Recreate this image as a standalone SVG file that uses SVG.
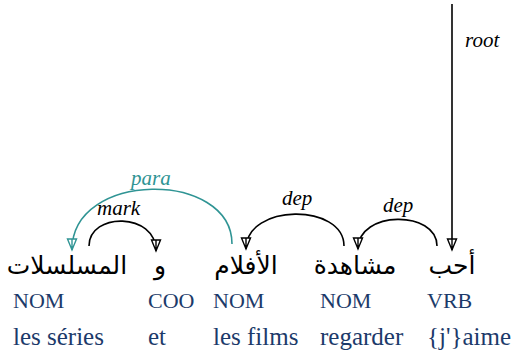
<svg xmlns="http://www.w3.org/2000/svg" width="519" height="353" viewBox="0 0 519 353">
<style>
.ar{font-family:"DejaVu Sans",sans-serif;font-size:25px;fill:#000}
.pos{font-family:"Liberation Serif",serif;font-size:22px;fill:#1c3a6a}
.gl{font-family:"Liberation Serif",serif;font-size:25px;fill:#1c3a6a}
.lbl{font-family:"Liberation Serif",serif;font-style:italic;font-size:21px;fill:#000}
.arc{fill:none;stroke:#000;stroke-width:1.6}
.teal{stroke:#2f9494}
</style>
<defs>
<marker id="ah" viewBox="-1 -6 14 12" refX="11" refY="0" markerWidth="14" markerHeight="12" markerUnits="userSpaceOnUse" orient="auto">
<path d="M0,-4.5 L11,0 L0,4.5 Z M0,0 L11,0" fill="#fff" stroke="#000" stroke-width="1.4"/>
</marker>
<marker id="aht" viewBox="-1 -6 14 12" refX="11" refY="0" markerWidth="14" markerHeight="12" markerUnits="userSpaceOnUse" orient="auto">
<path d="M0,-4.5 L11,0 L0,4.5 Z M0,0 L11,0" fill="#fff" stroke="#2f9494" stroke-width="1.4"/>
</marker>
</defs>
<rect width="519" height="353" fill="#fff"/>
<g id="connectors">
<path class="arc" d="M452,4 L452,250" marker-end="url(#ah)"/>
<text class="lbl" x="465" y="47">root</text>
<path class="arc" d="M437,246 C437,210 358,210 358,249" marker-end="url(#ah)"/>
<text class="lbl" x="383" y="212">dep</text>
<path class="arc" d="M344,246 C344,203 246,203 246,249" marker-end="url(#ah)"/>
<text class="lbl" x="282" y="205">dep</text>
<path class="arc teal" d="M232,244 C232,170 72,170 72,250" marker-end="url(#aht)"/>
<text class="lbl" x="131" y="185" style="fill:#2f9494">para</text>
<path class="arc" d="M89,246 C89,212 156,212 156,251" marker-end="url(#ah)"/>
<text class="lbl" x="97" y="215">mark</text>
</g>
<g id="n1">
<text class="ar" x="67" y="274" text-anchor="middle">المسلسلات</text>
<text class="pos" x="13" y="308">NOM</text>
<text class="gl" x="13" y="345">les séries</text>
</g>
<g id="n2">
<text class="ar" x="160" y="274" text-anchor="middle">و</text>
<text class="pos" x="148" y="308">COO</text>
<text class="gl" x="148" y="345">et</text>
</g>
<g id="n3">
<text class="ar" x="246" y="274" text-anchor="middle">الأفلام</text>
<text class="pos" x="213" y="308">NOM</text>
<text class="gl" x="213" y="345">les films</text>
</g>
<g id="n4">
<text class="ar" x="355" y="274" text-anchor="middle">مشاهدة</text>
<text class="pos" x="320" y="308">NOM</text>
<text class="gl" x="320" y="345">regarder</text>
</g>
<g id="n5">
<text class="ar" x="452" y="274" text-anchor="middle">أحب</text>
<text class="pos" x="427" y="308">VRB</text>
<text class="gl" x="427" y="345">{j'}aime</text>
</g>
</svg>
